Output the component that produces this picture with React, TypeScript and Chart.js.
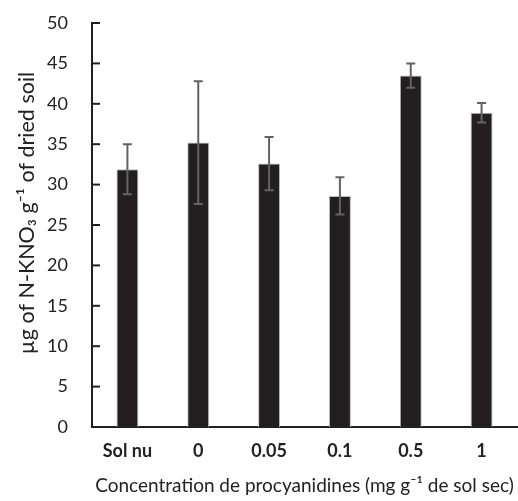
import React, { useEffect, useRef } from "react";
import { Chart, registerables } from "chart.js";

Chart.register(...registerables);

const categories = ["Sol nu", "0", "0.05", "0.1", "0.5", "1"];
const means = [31.9, 35.2, 32.6, 28.6, 43.5, 38.9];
const errors = [3.1, 7.6, 3.3, 2.3, 1.5, 1.2];
const yTicks = [0, 5, 10, 15, 20, 25, 30, 35, 40, 45, 50];
const yTitle = "µg of N-KNO₃ g⁻¹ of dried soil";
const xTitle = "Concentration de procyanidines (mg g⁻¹ de sol sec)";

const FONT = "Lato, sans-serif";
const AXIS = "#231f20";

const customPlugin = {
  id: "custom",
  afterDatasetsDraw(chart: any) {
    const ctx = chart.ctx;
    const y = chart.scales.y;
    const meta = chart.getDatasetMeta(0);
    ctx.save();
    ctx.strokeStyle = "#636363";
    ctx.lineWidth = 2;
    meta.data.forEach((bar: any, i: number) => {
      const x = bar.x;
      const top = y.getPixelForValue(means[i] + errors[i]);
      const bot = y.getPixelForValue(means[i] - errors[i]);
      ctx.beginPath();
      ctx.moveTo(x, top);
      ctx.lineTo(x, bot);
      ctx.moveTo(x - 4.5, top);
      ctx.lineTo(x + 4.5, top);
      ctx.moveTo(x - 4.5, bot);
      ctx.lineTo(x + 4.5, bot);
      ctx.stroke();
    });
    ctx.restore();
  },
  afterDraw(chart: any) {
    const ctx = chart.ctx;
    const y = chart.scales.y;
    const left = chart.chartArea.left;
    ctx.save();
    ctx.strokeStyle = AXIS;
    ctx.lineWidth = 2;
    yTicks.forEach((v) => {
      const py = y.getPixelForValue(v);
      ctx.beginPath();
      ctx.moveTo(left, py);
      ctx.lineTo(left + 8, py);
      ctx.stroke();
    });
    ctx.fillStyle = "#222";
    ctx.font = `21.5px ${FONT}`;
    ctx.textAlign = "center";
    ctx.textBaseline = "middle";
    ctx.translate(27, 213);
    ctx.rotate(-Math.PI / 2);
    ctx.fillText(yTitle, 0, 0);
    ctx.restore();
  },
};

export default function App() {
  const ref = useRef<HTMLCanvasElement>(null);
  useEffect(() => {
    const chart = new Chart(ref.current!, {
      type: "bar",
      data: {
        labels: categories,
        datasets: [
          {
            data: means,
            backgroundColor: AXIS,
            borderColor: "#bdbdbd",
            borderWidth: 1,
            categoryPercentage: 1,
            barPercentage: 0.31,
          },
        ],
      },
      options: {
        animation: false,
        responsive: false,
        maintainAspectRatio: false,
        layout: { padding: { top: 23, right: 1, left: 0, bottom: 0 } },
        plugins: { legend: { display: false }, tooltip: { enabled: false } },
        scales: {
          x: {
            grid: { display: false, drawTicks: false },
            border: { color: AXIS, width: 2 },
            ticks: {
              color: "#222",
              font: { family: FONT, size: 18, weight: "bold" },
              padding: 13,
              maxRotation: 0,
            },
            title: {
              display: true,
              text: xTitle,
              color: "#222",
              font: { family: FONT, size: 19 },
              padding: { top: 0, bottom: 4 },
            },
            afterFit(scale: any) {
              scale.height = 74;
              scale.paddingLeft = 0;
              scale.paddingRight = 0;
            },
          },
          y: {
            min: 0,
            max: 50,
            afterBuildTicks(scale: any) {
              scale.ticks = yTicks.map((v) => ({ value: v }));
            },
            grid: { display: false, drawTicks: false },
            border: { color: AXIS, width: 2 },
            ticks: {
              color: "#222",
              font: { family: FONT, size: 18 },
              padding: 24,
            },
            afterFit(scale: any) {
              scale.width = 92;
              scale.paddingTop = 11;
              scale.paddingBottom = 11;
            },
          },
        },
      },
      plugins: [customPlugin],
    });
    return () => chart.destroy();
  }, []);
  return (
    <div style={{ position: "fixed", left: 0, top: 0, width: 518, height: 501, background: "#fff" }}>
      <canvas ref={ref} width={518} height={501} />
    </div>
  );
}
